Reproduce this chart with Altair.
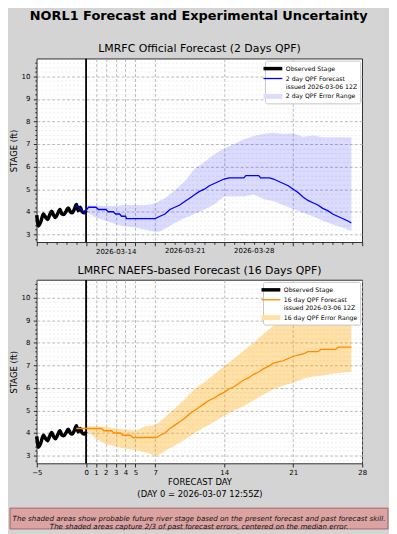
import altair as alt
import pandas as pd

# ---------------- data ----------------
obs_day = [-5.0, -4.83, -4.6, -4.33, -4.1, -3.9, -3.7, -3.49, -3.3, -3.1, -2.9, -2.65, -2.45,
           -2.25, -2.05, -1.81, -1.6, -1.4, -1.2, -0.98, -0.8, -0.6, -0.4, -0.14, 0.0]
obs_val = [3.85, 3.37, 3.55, 3.9, 3.75, 3.66, 3.85, 4.02, 3.85, 3.75, 3.9, 4.1, 3.9,
           3.88, 4.0, 4.17, 4.0, 3.95, 4.1, 4.32, 4.05, 4.2, 4.0, 3.95, 4.05]

fc1_day = [-1.0, -0.5, -0.15, 0.25, 1.0, 1.25, 2.0, 2.25, 2.75, 3.0, 3.4, 3.6, 4.0, 4.1, 7.0,
           7.5, 8.0, 8.5, 9.0, 9.5, 10.0, 10.5, 11.0, 11.5, 12.0, 12.5, 13.0, 13.5, 14.0, 14.5,
           16.0, 16.2, 17.5, 17.7, 18.6, 19.0, 19.5, 20.0, 20.5, 21.0, 21.5, 22.0, 22.5, 23.0,
           23.5, 24.0, 24.5, 25.0, 25.5, 26.0, 26.5, 26.9]
fc1_val = [4.3, 4.1, 3.95, 4.2, 4.2, 4.1, 4.1, 4.0, 4.0, 3.9, 3.9, 3.8, 3.8, 3.7, 3.7,
           3.8, 3.9, 4.1, 4.2, 4.3, 4.45, 4.6, 4.75, 4.9, 5.0, 5.15, 5.25, 5.35, 5.45, 5.5,
           5.5, 5.6, 5.6, 5.5, 5.5, 5.45, 5.35, 5.25, 5.15, 5.0, 4.85, 4.65, 4.5, 4.4,
           4.3, 4.15, 4.05, 3.9, 3.8, 3.7, 3.6, 3.5]

fc2_day = [-1.0, 1.6, 1.8, 2.6, 2.8, 3.5, 3.7, 4.5, 4.7, 7.1, 7.5, 8.0, 8.5, 9.0, 9.5, 10.0,
           10.5, 11.0, 11.5, 12.0, 12.5, 13.0, 13.5, 14.0, 14.5, 15.0, 15.5, 16.0, 16.5, 17.0,
           17.5, 18.0, 18.5, 19.0, 19.5, 20.0, 20.5, 21.0, 21.5, 22.0, 22.5, 23.5, 23.8, 25.3,
           25.6, 26.9]
fc2_val = [4.2, 4.2, 4.1, 4.1, 4.0, 4.0, 3.9, 3.9, 3.8, 3.8, 3.9, 4.0, 4.2, 4.35, 4.5, 4.65,
           4.85, 5.0, 5.15, 5.3, 5.45, 5.55, 5.7, 5.8, 5.95, 6.05, 6.2, 6.35, 6.45, 6.6,
           6.7, 6.85, 6.95, 7.1, 7.15, 7.2, 7.3, 7.4, 7.45, 7.5, 7.6, 7.6, 7.7, 7.7,
           7.8, 7.8]

band_day = [0, 1, 2, 3, 4, 5, 6, 7, 7.5, 8, 9, 10, 11, 12, 13, 14, 15, 16, 17, 18, 19, 20,
            21, 22, 23, 24, 25, 26, 26.9]
band1_lo = [4.0, 3.75, 3.6, 3.45, 3.35, 3.3, 3.2, 3.1, 3.12, 3.25, 3.5, 3.72, 3.9, 4.1, 4.32,
            4.68, 4.68, 4.68, 4.76, 4.57, 4.46, 4.29, 4.12, 3.96, 3.8, 3.6, 3.44, 3.3, 3.15]
band1_hi = [4.3, 4.27, 4.25, 4.25, 4.3, 4.3, 4.3, 4.35, 4.5, 4.6, 4.95, 5.35, 5.9, 6.2, 6.55,
            6.8, 7.0, 7.2, 7.35, 7.45, 7.5, 7.45, 7.48, 7.32, 7.38, 7.3, 7.3, 7.3, 7.3]
band2_lo = [4.15, 3.75, 3.5, 3.4, 3.3, 3.25, 3.15, 3.0, 3.05, 3.2, 3.45, 3.7, 4.0, 4.25, 4.5,
            4.76, 5.0, 5.2, 5.45, 5.7, 5.94, 6.1, 6.23, 6.4, 6.5, 6.55, 6.62, 6.68, 6.7]
band2_hi = [4.3, 4.3, 4.28, 4.2, 4.15, 4.1, 4.3, 4.35, 4.5, 4.7, 5.1, 5.5, 5.95, 6.25, 6.6,
            6.96, 7.3, 7.65, 8.0, 8.4, 8.75, 9.0, 9.24, 9.5, 9.7, 9.9, 10.1, 10.3, 10.42]

day0 = [0]
grid_days = [1, 2, 3, 4, 5, 7, 14, 21]
x2_ticks = [-5, 0, 1, 2, 3, 4, 5, 7, 14, 21, 28]
date_label_days = [3, 10, 17]
date_labels = ["2026-03-14", "2026-03-21", "2026-03-28"]

cats1 = ["Observed Stage", "2 day QPF Forecast|issued 2026-03-06 12Z", "2 day QPF Error Range"]
cats2 = ["Observed Stage", "16 day QPF Forecast|issued 2026-03-06 12Z", "16 day QPF Error Range"]

main_title = "NORL1 Forecast and Experimental Uncertainty"
title1 = "LMRFC Official Forecast (2 Days QPF)"
title2 = "LMRFC NAEFS-based Forecast (16 Days QPF)"
xtitle2 = ["FORECAST DAY", "(DAY 0 = 2026-03-07 12:55Z)"]
note = ("The shaded areas show probable future river stage based on the present forecast and past forecast skill.\n"
        "The shaded areas capture 2/3 of past forecast errors, centered on the median error.")

# ---------------- styling ----------------
FONT = "DejaVu Sans"
W, H = 328, 185
xscale = alt.Scale(domain=[-5, 28], nice=False, zero=False)
yscale = alt.Scale(domain=[2.65, 10.78], nice=False, zero=False)

y_vals = [round(2.8 + 0.2 * i, 1) for i in range(40)]
major_y = "datum.value % 1 === 0"


def y_axis():
    return alt.Axis(
        values=y_vals, title="STAGE (ft)", titleFont=FONT, titleFontSize=8.5,
        titleFontWeight="normal", titleColor="black", titlePadding=3,
        labelFont=FONT, labelFontSize=7, labelColor="black", labelPadding=3.5,
        labelExpr=f"{major_y} ? format(datum.value, 'd') : ''", labelOverlap=False,
        domain=False, tickColor="black", tickWidth=0.8,
        tickSize={"condition": {"test": major_y, "value": 3.5}, "value": 2},
        grid=True, gridWidth=0.8,
        gridColor={"condition": {"test": major_y, "value": "#a8a8a8"}, "value": "#e8e8e8"},
        gridDash={"condition": {"test": major_y, "value": [3, 2]}, "value": [2, 2]},
    )


grid_test = "indexof(" + str(grid_days) + ", datum.value) >= 0"
major_x1 = "indexof(" + str(x2_ticks) + ", datum.value) >= 0"
lab_expr = "''"
for d, s in zip(reversed(date_label_days), reversed(date_labels)):
    lab_expr = f"datum.value === {d} ? '{s}' : ({lab_expr})"

x1_axis = alt.Axis(
    values=list(range(-5, 29)), title=None, labelExpr=lab_expr, labelOverlap=False,
    labelFlush=False, labelFont=FONT, labelFontSize=7, labelColor="black", labelPadding=2,
    domain=False, tickColor="black", tickWidth=0.8,
    tickSize={"condition": {"test": major_x1, "value": 3.5}, "value": 2},
    grid=True, gridColor="#a8a8a8", gridDash=[3, 2], gridWidth=0.8,
    gridOpacity={"condition": {"test": grid_test, "value": 1}, "value": 0},
)

x2_axis = alt.Axis(
    values=x2_ticks, title=xtitle2, titleFont=FONT, titleFontSize=8.5,
    titleFontWeight="normal", titleColor="black", titlePadding=2, titleLineHeight=11.5,
    labelExpr="datum.value < 0 ? '\u2212' + abs(datum.value) : datum.label",
    labelOverlap=False, labelFlush=False, labelFont=FONT, labelFontSize=7,
    labelColor="black", labelPadding=2, domain=False, tickColor="black", tickWidth=0.8,
    tickSize=3.5, grid=True, gridColor="#a8a8a8", gridDash=[3, 2], gridWidth=0.8,
)

paths = [
    "M-2,-0.37L2,-0.37L2,0.37L-2,0.37Z",
    "M-2,-0.14L2,-0.14L2,0.14L-2,0.14Z",
    "M-2,-0.53L2,-0.53L2,0.53L-2,0.53Z",
]


def legend():
    return alt.Legend(
        title=None, orient="top-right", offset=2, fillColor="white", strokeColor="#c8c8c8",
        padding=3, cornerRadius=2, labelFont=FONT, labelFontSize=6.2, labelColor="black",
        labelExpr="split(datum.label, '|')", labelOffset=8, labelLimit=200,
        symbolSize=90, symbolStrokeWidth=0, rowPadding=1,
    )


def panel(title, fc_day, fc_val, lo, hi, line_color, band_color, band_op, cats, leg_colors, xaxis, extra=None):
    obs = pd.DataFrame({"day": obs_day, "stage": obs_val})
    fc = pd.DataFrame({"day": fc_day, "stage": fc_val})
    band = pd.DataFrame({"day": band_day, "stage": lo, "hi": hi})
    zero = pd.DataFrame({"day": day0})
    leg = pd.DataFrame({"day": [-60] * 3, "stage": [5] * 3, "cat": cats})

    X = alt.X("day:Q", scale=xscale, axis=xaxis)
    Y = alt.Y("stage:Q", scale=yscale, axis=y_axis())

    l_band = alt.Chart(band).mark_area(color=band_color, opacity=band_op).encode(
        x=X, y=Y, y2="hi:Q")
    l_zero = alt.Chart(zero).mark_rule(color="black", strokeWidth=1.8).encode(x=X)
    l_obs = alt.Chart(obs).mark_line(color="black", strokeWidth=3.5, strokeJoin="round",
                                     interpolate="monotone").encode(x=X, y=Y)
    l_fc = alt.Chart(fc).mark_line(color=line_color, strokeWidth=1.3).encode(x=X, y=Y)
    l_leg = alt.Chart(leg).mark_point(filled=True, opacity=1, clip=True).encode(
        x=X, y=Y,
        color=alt.Color("cat:N", scale=alt.Scale(domain=cats, range=leg_colors), legend=legend()),
        shape=alt.Shape("cat:N", scale=alt.Scale(domain=cats, range=paths), legend=legend()),
    )
    layers = [l_band, l_zero, l_obs, l_fc, l_leg]
    if extra:
        layers += extra
    return alt.layer(*layers).properties(
        width=W, height=H,
        title=alt.TitleParams(title, font=FONT, fontSize=11, fontWeight="normal",
                              color="black", anchor="middle", offset=3.5),
    )


foot = pd.DataFrame({"k": [0]})
foot_box = alt.Chart(foot).mark_rect(fill="#dca3a3", stroke="#9a4d4d", strokeWidth=0.8).encode(
    x=alt.value(-27), x2=alt.value(354), y=alt.value(230), y2=alt.value(251))
foot_txt = alt.Chart(foot).mark_text(
    text=note, lineBreak="\n", lineHeight=9, font=FONT, fontSize=7.15, fontStyle="italic",
    color="#111111", align="center", baseline="middle").encode(
    x=alt.value(163.5), y=alt.value(240.5))

p1 = panel(title1, fc1_day, fc1_val, band1_lo, band1_hi, "#0000ff", "#0000ff", 0.14,
           cats1, ["black", "#0000ff", "#dcdcff"], x1_axis)
p2 = panel(title2, fc2_day, fc2_val, band2_lo, band2_hi, "#ff8c00", "#ffa500", 0.35,
           cats2, ["black", "#ff8c00", "#ffe0a8"], x2_axis, extra=[foot_box, foot_txt])

chart = alt.vconcat(p1, p2, spacing=9).resolve_scale(
    color="independent", shape="independent"
).resolve_legend(
    color="independent", shape="independent"
).properties(
    background="#d4d4d4",
    padding={"left": 0, "top": 0, "right": 0, "bottom": 0},
    title=alt.TitleParams(main_title, font=FONT, fontSize=13, fontWeight="bold",
                          color="black", anchor="middle", offset=20),
).configure_view(stroke="black", strokeWidth=0.8, fill="white")

chart.save("out.html", embed_options={"renderer": "svg", "actions": False})
